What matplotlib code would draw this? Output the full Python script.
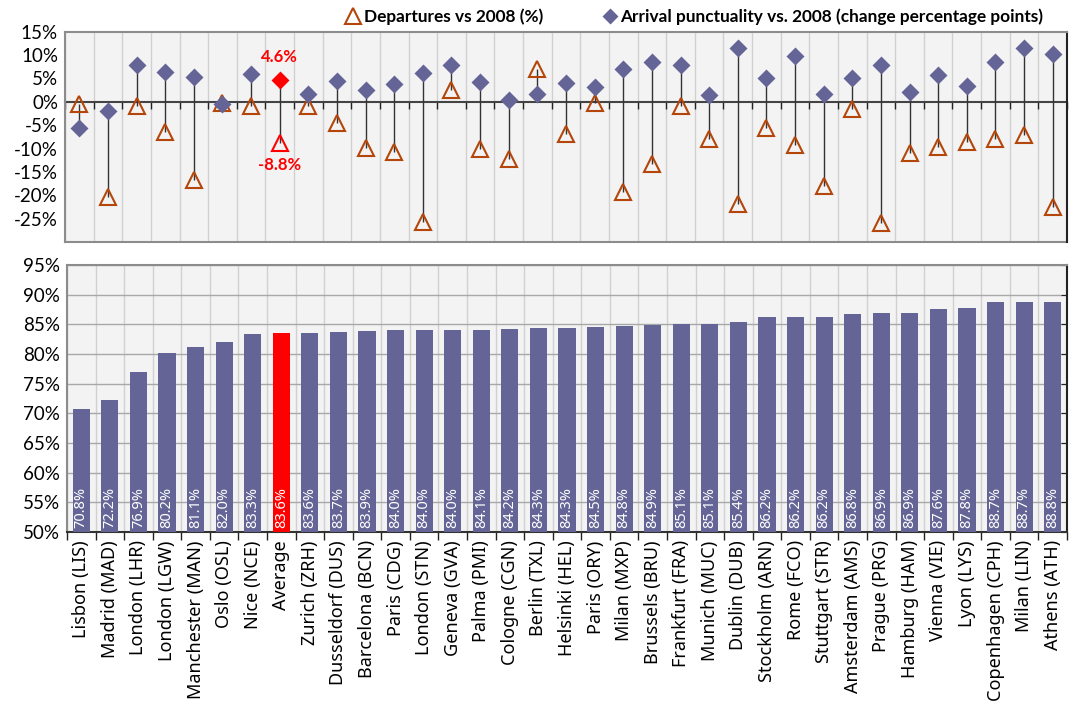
import matplotlib
matplotlib.use('Agg')
import matplotlib.pyplot as plt
import numpy as np
from matplotlib.lines import Line2D
from matplotlib.ticker import FuncFormatter
from matplotlib import font_manager

airports = ["Lisbon (LIS)", "Madrid (MAD)", "London (LHR)", "London (LGW)", "Manchester (MAN)",
            "Oslo (OSL)", "Nice (NCE)", "Average", "Zurich (ZRH)", "Dusseldorf (DUS)",
            "Barcelona (BCN)", "Paris (CDG)", "London (STN)", "Geneva (GVA)", "Palma (PMI)",
            "Cologne (CGN)", "Berlin (TXL)", "Helsinki (HEL)", "Paris (ORY)", "Milan (MXP)",
            "Brussels (BRU)", "Frankfurt (FRA)", "Munich (MUC)", "Dublin (DUB)", "Stockholm (ARN)",
            "Rome (FCO)", "Stuttgart (STR)", "Amsterdam (AMS)", "Prague (PRG)", "Hamburg (HAM)",
            "Vienna (VIE)", "Lyon (LYS)", "Copenhagen (CPH)", "Milan (LIN)", "Athens (ATH)"]

arrival_punctuality = [70.8, 72.2, 76.9, 80.2, 81.1, 82.0, 83.3, 83.6, 83.6, 83.7,
                       83.9, 84.0, 84.0, 84.0, 84.1, 84.2, 84.3, 84.3, 84.5, 84.8,
                       84.9, 85.1, 85.1, 85.4, 86.2, 86.2, 86.2, 86.8, 86.9, 86.9,
                       87.6, 87.8, 88.7, 88.7, 88.8]

departures_vs_2008 = [-0.5, -20.4, -0.8, -6.4, -16.8, -0.2, -0.8, -8.8, -0.8, -4.6,
                      -9.8, -10.8, -25.7, 2.6, -10.1, -12.2, 7.1, -6.9, -0.2, -19.4,
                      -13.3, -0.8, -7.9, -21.8, -5.7, -9.2, -18.0, -1.6, -26.0, -11.0,
                      -9.6, -8.7, -8.0, -7.1, -22.5]

arrival_change_pp = [-5.7, -2.0, 7.8, 6.4, 5.4, -0.4, 6.0, 4.6, 1.6, 4.4,
                     2.6, 3.9, 6.2, 7.9, 4.3, 0.3, 1.7, 4.0, 3.2, 7.0,
                     8.5, 7.8, 1.4, 11.6, 5.1, 9.9, 1.6, 5.0, 7.8, 2.1,
                     5.8, 3.3, 8.6, 11.5, 10.3]

PURPLE = '#646496'
RED = '#FF0000'
TRI = '#B4460A'
BG = '#F3F3F3'
GRID_H = '#A8A8A8'
GRID_V = '#D0D0D0'

plt.rcParams['axes.unicode_minus'] = False
plt.rcParams['font.family'] = ['Lato', 'DejaVu Sans']

value_font = font_manager.FontProperties(family=['Noto Sans', 'DejaVu Sans'], size=10.5)

n = len(airports)
x = np.arange(n)
avg_idx = airports.index("Average")
others = [i for i in range(n) if i != avg_idx]

W, H = 1074, 704
fig = plt.figure(figsize=(W / 100, H / 100), dpi=100)
ax1 = fig.add_axes([65 / W, 1 - 242 / H, (1067 - 65) / W, (242 - 31.7) / H])
ax2 = fig.add_axes([67 / W, 1 - 532 / H, (1067 - 67) / W, (532 - 265) / H])

pct = FuncFormatter(lambda v, p: f"{v:.0f}%")

# ---------------- top panel ----------------
ax1.set_facecolor(BG)
ax1.set_xlim(-0.5, n - 0.5)
ax1.set_ylim(-30, 15)
ax1.set_yticks(np.arange(-25, 16, 5))
ax1.yaxis.set_major_formatter(pct)
ax1.set_yticks(np.arange(-30, 16, 5), minor=True)
ax1.set_xticks([])
ax1.set_xticks(np.arange(-0.5, n, 1), minor=True)
ax1.grid(which='minor', axis='y', color=GRID_H, lw=1, zorder=0)
ax1.grid(which='minor', axis='x', color=GRID_V, lw=1, zorder=0)
ax1.set_axisbelow(True)
ax1.tick_params(axis='y', which='major', length=0, labelsize=13.5, pad=5)
ax1.tick_params(axis='y', which='minor', left=False, right=True, direction='in', length=4, color='#222222')
ax1.tick_params(axis='x', which='minor', length=5, color='#222222', width=1, direction='out')
ax1.spines['bottom'].set_position(('data', 0))
ax1.spines['bottom'].set_color('#444444')
ax1.spines['bottom'].set_zorder(2)
ax1.spines['left'].set_color('#8C8C8C')
ax1.spines['top'].set_color('#8C8C8C')
ax1.spines['right'].set_color('#222222')
ax1.axhline(-30, color='#8C8C8C', lw=1.5, clip_on=False, zorder=1)
for s in ax1.spines.values():
    s.set_linewidth(1.5)

ax1.vlines(x, departures_vs_2008, arrival_change_pp, color='#333333', lw=1, zorder=3)
ax1.plot(x[others], np.array(departures_vs_2008)[others], '^', ls='none', mfc='none',
         mec=TRI, ms=11.5, mew=1.5, zorder=4)
ax1.plot([x[avg_idx]], [departures_vs_2008[avg_idx]], '^', ls='none', mfc='none',
         mec=RED, ms=11.5, mew=1.5, zorder=4)
ax1.plot(x[others], np.array(arrival_change_pp)[others], 'D', ls='none', color=PURPLE,
         mec='none', ms=8.8, zorder=5)
ax1.plot([x[avg_idx]], [arrival_change_pp[avg_idx]], 'D', ls='none', color=RED,
         mec='none', ms=8.8, zorder=5)
ax1.annotate(f"{arrival_change_pp[avg_idx]:.1f}%", (x[avg_idx], arrival_change_pp[avg_idx]),
             xytext=(0, 11), textcoords='offset points', ha='center', va='bottom',
             color=RED, fontweight='bold', fontsize=12)
ax1.annotate(f"{departures_vs_2008[avg_idx]:.1f}%", (x[avg_idx], departures_vs_2008[avg_idx]),
             xytext=(0, -10), textcoords='offset points', ha='center', va='top',
             color=RED, fontweight='bold', fontsize=12)

# ---------------- bottom panel ----------------
ax2.set_facecolor(BG)
ax2.set_xlim(-0.5, n - 0.5)
ax2.set_ylim(50, 95)
ax2.set_yticks(np.arange(50, 96, 5))
ax2.yaxis.set_major_formatter(pct)
ax2.tick_params(axis='y', which='major', left=False, right=True, labelright=False,
                direction='in', length=4, color='#222222', labelsize=13.5, pad=5)
ax2.tick_params(axis='x', which='major', length=0, pad=6)
ax2.tick_params(axis='x', which='minor', length=6, color='#222222', width=1, direction='out')
ax2.set_xticks(np.arange(-0.5, n, 1), minor=True)
ax2.set_xticks(x, labels=airports, rotation=90, fontfamily='Noto Sans', fontsize=13)
ax2.grid(which='major', axis='y', color=GRID_H, lw=1, zorder=0)
ax2.grid(which='minor', axis='x', color=GRID_V, lw=1, zorder=0)
ax2.set_axisbelow(True)
ax2.spines['bottom'].set_color('#333333')
ax2.spines['left'].set_color('#8C8C8C')
ax2.spines['top'].set_color('#8C8C8C')
ax2.spines['right'].set_color('#222222')
for s in ax2.spines.values():
    s.set_linewidth(1.5)

bar_colors = [RED if i == avg_idx else PURPLE for i in range(n)]
ax2.bar(x, arrival_punctuality, width=0.6, color=bar_colors, zorder=3)
for xi, v in zip(x, arrival_punctuality):
    ax2.text(xi, 50.6, f"{v:.1f}%", rotation=90, ha='center', va='bottom', color='white',
             fontproperties=value_font, zorder=4)

# ---------------- legend ----------------
handles = [Line2D([], [], marker='^', ls='none', mfc='none', mec=TRI, ms=11, mew=1.5,
                  label='Departures vs 2008 (%)'),
           Line2D([], [], marker='D', ls='none', color=PURPLE, mec='none', ms=8,
                  label='Arrival punctuality vs. 2008 (change percentage points)')]
fig.legend(handles=handles, ncol=2, loc='center', bbox_to_anchor=(694 / W, 1 - 17 / H),
           frameon=False, prop=dict(weight='bold', size=12.4), columnspacing=3.4,
           handletextpad=0.1, handlelength=1.0, borderpad=0)

fig.savefig('out.png', dpi=100)
